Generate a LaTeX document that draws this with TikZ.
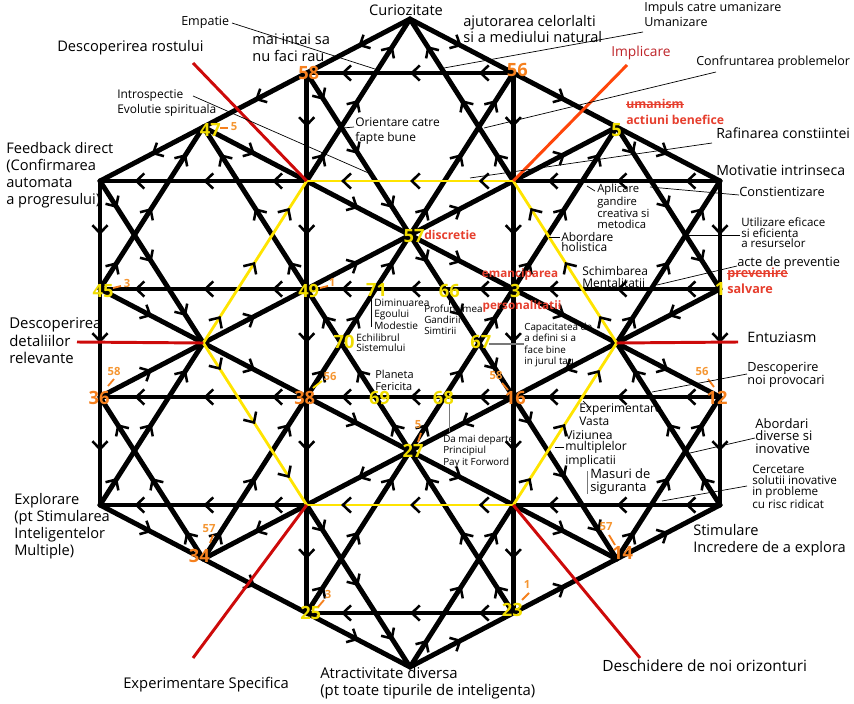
\documentclass[tikz,border=0pt]{standalone}
\usepackage{fontspec}
\setmainfont{Open Sans}
\usetikzlibrary{arrows.meta,decorations.markings}
\definecolor{yellowA}{RGB}{255,228,0}
\definecolor{numY}{RGB}{240,220,0}
\definecolor{orangeA}{RGB}{245,128,30}
\definecolor{orangeB}{RGB}{245,150,50}
\definecolor{redA}{RGB}{205,10,10}
\definecolor{redB}{RGB}{230,62,45}
\definecolor{redD}{RGB}{190,35,40}
\definecolor{orangeR}{RGB}{255,70,10}
\definecolor{greyA}{RGB}{120,120,120}
\newlength\strklen
\newcommand\strk[1]{\settowidth{\strklen}{#1}\rlap{\rule[0.55ex]{\strklen}{0.7pt}}#1}
\tikzset{
  edge/.style={line width=3.5pt, draw=black, line cap=round, line join=round},
  hedge/.style={line width=2pt, draw=yellowA, line cap=round},
  flow/.style={postaction={decorate,decoration={markings,
      mark=between positions 0.5/#1 and 1 step 1/#1 with {\arrow[black]{Straight Barb[length=2mm,width=3.8mm,line width=1.8pt]}}}}},
  spoke/.style={line width=2.1pt, draw=#1},
  lead/.style={line width=0.5pt, draw=black},
  tagline/.style={line width=1.3pt, draw=#1},
  num/.style={font=\fontsize{13}{14}\selectfont\bfseries, text=#1, inner sep=0pt},
  tag/.style={font=\fontsize{8}{9}\selectfont\bfseries, text=orangeB, inner sep=0pt},
  lab/.style={font=\fontsize{10.4}{12}\selectfont, align=left, anchor=west, inner sep=0pt},
  note/.style={font=\fontsize{8.9}{10.5}\selectfont, align=left, anchor=west, inner sep=0pt},
  tiny/.style={font=\fontsize{7}{8}\selectfont, align=left, anchor=west, inner sep=0pt},
  redbold/.style={font=\fontsize{8.3}{11.4}\selectfont\bfseries, text=redB, align=left, anchor=west, inner sep=0pt},
}
\begin{document}
\begin{tikzpicture}[x=0.025cm,y=-0.025cm]
\useasboundingbox (0,0) rectangle (854,703);

\coordinate (top) at (410,19);
\coordinate (bot) at (410,667);
\coordinate (ul) at (100,181);
\coordinate (ur) at (720,181);
\coordinate (ll) at (100,505);
\coordinate (lr) at (720,505);
\coordinate (yA) at (306.7,181);
\coordinate (yB) at (513.3,181);
\coordinate (yC) at (616.7,343);
\coordinate (yD) at (513.3,505);
\coordinate (yE) at (306.7,505);
\coordinate (yF) at (203.3,343);
\coordinate (n58) at (306.7,73);
\coordinate (n56) at (513.3,73);
\coordinate (n47) at (203.3,127);
\coordinate (n5) at (616.7,127);
\coordinate (n57) at (410,235);
\coordinate (n45) at (100,289);
\coordinate (n49) at (306.7,289);
\coordinate (n71) at (375.6,289);
\coordinate (n66) at (444.4,289);
\coordinate (n3) at (513.3,289);
\coordinate (n1) at (720,289);
\coordinate (n70) at (341.1,343);
\coordinate (n67) at (478.9,343);
\coordinate (n36) at (100,397);
\coordinate (n38) at (306.7,397);
\coordinate (n69) at (375.6,397);
\coordinate (n68) at (444.4,397);
\coordinate (n16) at (513.3,397);
\coordinate (n12) at (720,397);
\coordinate (n27) at (410,451);
\coordinate (n34) at (203.3,559);
\coordinate (n25) at (306.7,613);
\coordinate (n23) at (513.3,613);
\coordinate (n14) at (616.7,559);

% outer hexagon
\draw[edge,flow=3] (top) -- (ul);
\draw[edge,flow=3] (top) -- (ur);
\draw[edge,flow=3] (ul) -- (ll);
\draw[edge,flow=3] (ur) -- (lr);
\draw[edge,flow=3] (ll) -- (bot);
\draw[edge,flow=3] (bot) -- (lr);

% horizontals and verticals
\draw[edge,flow=3] (n56) -- (n58);
\draw[edge,flow=3] (ur) -- (yB);
\draw[edge,flow=3] (yA) -- (ul);
\draw[edge,flow=9] (n1) -- (n45);
\draw[edge,flow=9] (n12) -- (n36);
\draw[edge,flow=3] (lr) -- (yD);
\draw[edge,flow=3] (yE) -- (ll);
\draw[edge,flow=3] (n23) -- (n25);
\draw[edge,flow=5] (n58) -- (n25);
\draw[edge,flow=5] (n56) -- (n23);

% big triangles
\draw[edge,flow=3] (ll) -- (yF);
\draw[edge,flow=3] (yA) -- (top);
\draw[edge,flow=3] (lr) -- (yC);
\draw[edge,flow=3] (yB) -- (top);
\draw[edge,flow=3] (ul) -- (yF);
\draw[edge,flow=3] (yE) -- (bot);
\draw[edge,flow=3] (bot) -- (yD);
\draw[edge,flow=3] (yC) -- (ur);

% inner lines
\draw[edge,flow=5] (n47) -- (n12);
\draw[edge,flow=5] (n36) -- (n5);
\draw[edge,flow=5] (n45) -- (n14);
\draw[edge,flow=5] (n1) -- (n34);
\draw[edge,flow=9] (n58) -- (n14);
\draw[edge,flow=9] (n34) -- (n56);
\draw[edge,flow=9] (n23) -- (n47);
\draw[edge,flow=9] (n25) -- (n5);
\draw[edge,flow=3] (n45) -- (n47);
\draw[edge,flow=3] (n5) -- (n1);
\draw[edge,flow=3] (n34) -- (n36);
\draw[edge,flow=3] (n14) -- (n12);

% yellow hexagon
\draw[hedge,flow=3] (yB) -- (yA);
\draw[hedge,flow=3] (yD) -- (yE);
\draw[hedge,flow=3] (yF) -- (yA);
\draw[hedge,flow=3] (yC) -- (yB);
\draw[hedge,flow=3] (yF) -- (yE);
\draw[hedge,flow=3] (yD) -- (yC);

% spokes
\coordinate (sA) at (193,63);
\coordinate (sB) at (627,65);
\coordinate (sF) at (77,342);
\coordinate (sC) at (738,342);
\coordinate (sE) at (193,658);
\coordinate (sD) at (640,658);
\draw[spoke=redA] (yA) -- (sA);
\draw[spoke=orangeR] (yB) -- (sB);
\draw[spoke=redA] (yF) -- (sF);
\draw[spoke=redA] (yC) -- (sC);
\draw[spoke=redA] (yE) -- (sE);
\draw[spoke=redA] (yD) -- (sD);

% numbers
\node[num=orangeA] (l58) at ([shift={(2,0)}]n58) {58};
\node[num=orangeA] (l56) at ([shift={(4,-3)}]n56) {56};
\node[num=numY] (l47) at ([shift={(7,3)}]n47) {47};
\node[num=numY] (l5) at ([shift={(0,3)}]n5) {5};
\node[num=numY] (l57) at ([shift={(4,1)}]n57) {57};
\node[num=numY] (l45) at ([shift={(3,2)}]n45) {45};
\node[num=numY] (l49) at ([shift={(2,2)}]n49) {49};
\node[num=numY] (l71) at ([shift={(1,1)}]n71) {71};
\node[num=numY] (l66) at ([shift={(5,2)}]n66) {66};
\node[num=numY] (l3) at ([shift={(2,2)}]n3) {3};
\node[num=numY] (l1) at ([shift={(0,0)}]n1) {1};
\node[num=numY] (l70) at ([shift={(3,-1)}]n70) {70};
\node[num=numY] (l67) at ([shift={(2,-1)}]n67) {67};
\node[num=orangeA] (l36) at ([shift={(-1,1)}]n36) {36};
\node[num=orangeA] (l38) at ([shift={(-2,1)}]n38) {38};
\node[num=numY] (l69) at ([shift={(4,1)}]n69) {69};
\node[num=numY] (l68) at ([shift={(-1,1)}]n68) {68};
\node[num=orangeA] (l16) at ([shift={(2,1)}]n16) {16};
\node[num=orangeA] (l12) at ([shift={(-3,1)}]n12) {12};
\node[num=numY] (l27) at ([shift={(3,0)}]n27) {27};
\node[num=orangeA] (l34) at ([shift={(-4,-3)}]n34) {34};
\node[num=numY] (l25) at ([shift={(4,0)}]n25) {25};
\node[num=numY] (l23) at ([shift={(-1,-3)}]n23) {23};
\node[num=orangeA] (l14) at ([shift={(6,-6)}]n14) {14};

% small tags
\draw[tagline=orangeA] (220,128) -- (228,128);
\node[tag] (t47) at (234,127) {5};
\draw[tagline=orangeA] (113,288) -- (121,286);
\node[tag] (t45) at (127,283) {3};
\draw[tagline=orangeA] (320,288) -- (328,286);
\node[tag] (t49) at (332,282) {1};
\draw[tagline=orangeA] (108,386) -- (114,379);
\node[tag] (t36) at (114,371) {58};
\draw[tagline=yellowA] (313,388) -- (322,381);
\node[tag] (t38) at (330,376) {56};
\draw[tagline=orangeA] (502,383) -- (508,390);
\node[tag] (t16) at (496,375) {58};
\draw[tagline=orangeA] (708,379) -- (714,387);
\node[tag] (t12) at (702,371) {56};
\draw[tagline=orangeA] (418,442) -- (421,433);
\node[tag] (t27) at (418,425) {5};
\draw[tagline=orangeA] (210,543) -- (213,535);
\node[tag] (t34) at (209,529) {57};
\draw[tagline=orangeA] (318,607) -- (324,600);
\node[tag] (t25) at (328,594) {3};
\draw[tagline=orangeA] (522,600) -- (529,593);
\node[tag] (t23) at (527,584) {1};
\draw[tagline=orangeA] (609,535) -- (615,545);
\node[tag] (t14) at (606,527) {57};

% texts
\node[lab,anchor=center] (curio) at (406,10) {Curiozitate};
\node[note] (empatie) at (181,22) {Empatie};
\node[lab] (rostului) at (57,48) {Descoperirea rostului};
\node[lab] (rau) at (252,48) {mai intai sa\\nu faci rau};
\node[lab] (ajutor) at (463,29) {ajutorarea celorlalti\\si a mediului natural};
\node[note] (impuls) at (644,14) {Impuls catre umanizare\\Umanizare};
\node[lab,font=\fontsize{9.8}{12}\selectfont,text=redD] (implicare) at (611,53) {Implicare};
\node[note] (confrunt) at (696,62) {Confruntarea problemelor};
\node[redbold,font=\fontsize{8.7}{11.4}\selectfont\bfseries] (umanism) at (626,112) {\strk{umanism}\\actiuni benefice};
\node[lab,font=\fontsize{10}{12}\selectfont] (rafinarea) at (716,133) {Rafinarea constiintei};
\node[lab,font=\fontsize{10}{12}\selectfont] (motivatie) at (716,170) {Motivatie intrinseca};
\node[note,font=\fontsize{9.1}{10.5}\selectfont] (constient) at (739,192) {Constientizare};
\node[note,font=\fontsize{8.5}{10.5}\selectfont] (introsp) at (117,103) {Introspectie\\Evolutie spirituala};
\node[note,font=\fontsize{8.5}{10.5}\selectfont] (orient) at (355,131) {Orientare catre\\fapte bune};
\node[lab] (feedback) at (6,175) {Feedback direct\\(Confirmarea\\automata\\a progresului)};
\node[tiny,font=\fontsize{8}{7.6}\selectfont] (aplicare) at (597,206) {Aplicare\\gandire\\creativa si\\metodica};
\node[note,font=\fontsize{8.2}{7.4}\selectfont] (utilizare) at (741,233) {Utilizare eficace\\si eficienta\\a resurselor};
\node[note,font=\fontsize{8.5}{7.4}\selectfont] (holist) at (561,242) {Abordare\\holistica};
\node[note,font=\fontsize{9.1}{10.5}\selectfont] (acte) at (737,263) {acte de preventie};
\node[redbold,font=\fontsize{9}{11.4}\selectfont\bfseries] (salvare) at (727,281) {\strk{prevenire}\\salvare};
\node[note,font=\fontsize{8.5}{8.3}\selectfont] (schimb) at (582,277) {Schimbarea\\Mentalitatii};
\node[redbold,anchor=center] (emanc) at (520,274) {emanciparea};
\node[redbold,anchor=center] (person) at (522,306) {personalitatii};
\node[redbold,font=\fontsize{8.6}{10}\selectfont\bfseries] (discretie) at (424,235) {discretie};
\node[tiny,font=\fontsize{7.2}{8.2}\selectfont] (dimin) at (374,314) {Diminuarea\\Egoului\\Modestie};
\node[tiny] (profunz) at (424,320) {Profunzimea\\Gandirii\\Simtirii};
\node[tiny,font=\fontsize{7.2}{7.2}\selectfont] (echilib) at (356,343) {Echilibrul\\Sistemului};
\node[tiny] (capacit) at (524,345) {Capacitatea de\\a defini si a\\face bine\\in jurul tau};
\node[tiny,font=\fontsize{7.8}{8.5}\selectfont] (planeta) at (375,380) {Planeta\\Fericita};
\node[note,font=\fontsize{9}{8.5}\selectfont] (provoc) at (747,375) {Descoperire\\noi provocari};
\node[note,font=\fontsize{8.5}{7.4}\selectfont] (vasta) at (579,415) {Experimentare\\Vasta};
\node[note,font=\fontsize{8.6}{7.5}\selectfont] (viziunea) at (565,449) {Viziunea\\multiplelor\\implicatii};
\node[tiny,font=\fontsize{7}{8.2}\selectfont] (forword) at (443,451) {Da mai departe\\Principiul\\Pay it Forword};
\node[note,font=\fontsize{9.3}{8.9}\selectfont] (abordari) at (755,436) {Abordari\\diverse si\\inovative};
\node[note,font=\fontsize{9.2}{9.2}\selectfont] (masuri) at (590,482) {Masuri de\\siguranta};
\node[tiny,font=\fontsize{8.3}{7.6}\selectfont] (cercetare) at (752,487) {Cercetare\\solutii inovative\\in probleme\\cu risc ridicat};
\node[lab] (stimulare) at (693,540) {Stimulare\\Incredere de a explora};
\node[lab] (explorare) at (14,526) {Explorare\\(pt Stimularea\\Inteligentelor\\Multiple)};
\node[lab,font=\fontsize{10.6}{12.4}\selectfont] (detalii) at (9,341) {Descoperirea\\detaliilor\\relevante};
\node[lab,font=\fontsize{10.2}{12}\selectfont] (entuz) at (747,337) {Entuziasm};
\node[lab,font=\fontsize{10.5}{12}\selectfont] (specifica) at (123,685) {Experimentare Specifica};
\node[lab,font=\fontsize{10.6}{12}\selectfont] (atract) at (320,683) {Atractivitate diversa\\(pt toate tipurile de inteligenta)};
\node[lab,font=\fontsize{11}{12}\selectfont] (deschid) at (602,666) {Deschidere de noi orizonturi};

% leaders
\coordinate (e0) at (232,23);      \coordinate (e1) at (378,70);
\coordinate (i0) at (193,96);      \coordinate (i1) at (373,175);
\coordinate (o0) at (354,127);     \coordinate (o1) at (343,128);
\coordinate (u0) at (643,32);      \coordinate (u1) at (444,68);
\coordinate (c0) at (716,72);      \coordinate (c1) at (484,128);
\coordinate (r0) at (712,143);     \coordinate (r1) at (470,178);
\coordinate (k0) at (739,195);     \coordinate (k1) at (650,187);
\coordinate (a0) at (595,191);     \coordinate (a1) at (587,186);
\coordinate (z0) at (740,235);     \coordinate (z1) at (688,235);
\coordinate (p0) at (737,266);     \coordinate (p1) at (657,285);
\coordinate (h0) at (560,237);     \coordinate (h1) at (549,237);
\coordinate (q0) at (489,344);     \coordinate (q1) at (524,344);
\coordinate (g0) at (449,299);     \coordinate (g1) at (449,305);
\coordinate (d0) at (371,299);     \coordinate (d1) at (371,327);
\coordinate (v0) at (747,374);     \coordinate (v1) at (652,392);
\coordinate (x0) at (590,408);     \coordinate (x1) at (583,401);
\coordinate (w0) at (564,447);     \coordinate (w1) at (555,447);
\coordinate (f0) at (449,404);     \coordinate (f1) at (449,432);
\coordinate (b0) at (755,438);     \coordinate (b1) at (690,453);
\coordinate (m0) at (587,471);     \coordinate (m1) at (587,494);
\coordinate (s0) at (747,486);     \coordinate (s1) at (662,501);
\draw[lead] (e0) -- (e1);
\draw[lead] (i0) -- (i1);
\draw[lead] (o0) -- (o1);
\draw[lead] (u0) -- (u1);
\draw[lead] (c0) -- (c1);
\draw[lead] (r0) -- (r1);
\draw[lead] (k0) -- (k1);
\draw[lead] (a0) -- (a1);
\draw[lead] (z0) -- (z1);
\draw[lead] (p0) -- (p1);
\draw[lead] (h0) -- (h1);
\draw[lead,draw=greyA,line width=1pt] (q0) -- (q1);
\draw[lead] (g0) -- (g1);
\draw[lead] (d0) -- (d1);
\draw[lead] (v0) -- (v1);
\draw[lead] (x0) -- (x1);
\draw[lead] (w0) -- (w1);
\draw[lead,draw=greyA] (f0) -- (f1);
\draw[lead] (b0) -- (b1);
\draw[lead,draw=greyA] (m0) -- (m1);
\draw[lead] (s0) -- (s1);

\end{tikzpicture}
\end{document}
